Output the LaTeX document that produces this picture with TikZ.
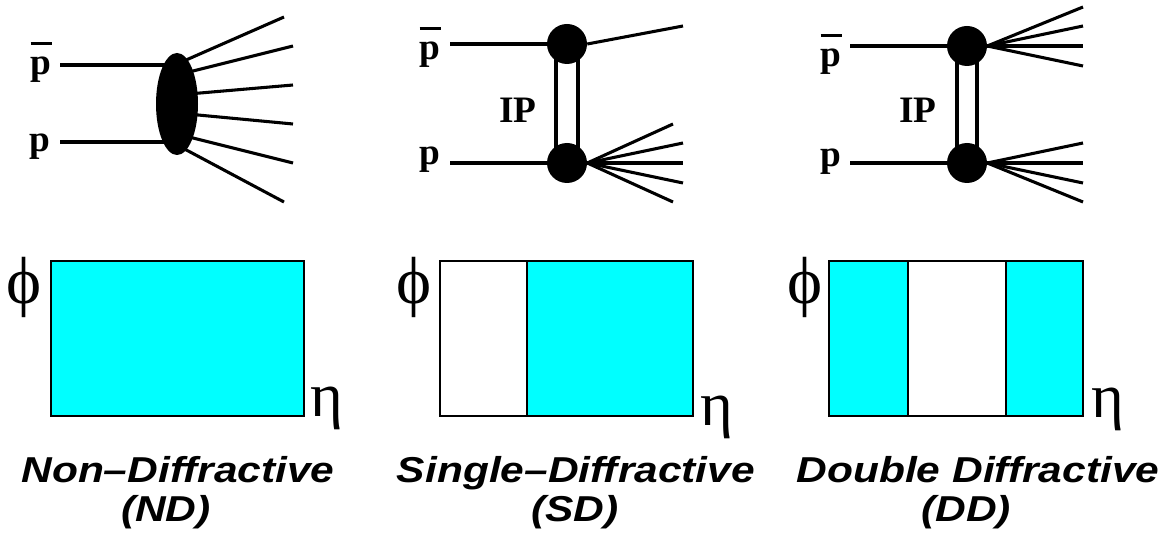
\documentclass[tikz,border=0pt]{standalone}
\usepackage{fontspec}
\setmainfont{Liberation Serif}
\newfontfamily\labfont[FakeStretch=1.18]{Liberation Sans}
\usetikzlibrary{shapes.geometric}
\definecolor{diffcyan}{RGB}{0,255,255}
\newcommand\pbarsym{\makebox[0pt][l]{\raisebox{0.8em}{\rule{0.56em}{0.08em}}}p}
\begin{document}
\begin{tikzpicture}[x=0.75pt,y=-0.75pt,
  line/.style={line width=2.3pt},
  frame/.style={line width=2.2pt, draw=black},
  blob/.style={circle, fill=black, inner sep=0pt, minimum size=30pt},
  part/.style={font=\fontsize{28}{30}\selectfont\bfseries, inner sep=0pt, anchor=base},
  phistyle/.style={font=\fontsize{50}{52}\selectfont, inner sep=0pt},
  etastyle/.style={font=\fontsize{47}{50}\selectfont, inner sep=0pt},
  title/.style={font=\labfont\fontsize{27}{30}\selectfont\bfseries\itshape, inner sep=0pt, anchor=base}
]
\useasboundingbox[fill=white] (0,0) rectangle (1164,545);

% ---------- Non-diffractive ----------
\node[part] (nd-pb) at (41,75) {\pbarsym};
\node[part] (nd-p) at (40,152) {p};
\coordinate (nd-c) at (177,104);
\coordinate (nd-a) at (60,65);
\coordinate (nd-b) at (60,142);
\draw[line] (nd-a) -- (nd-a -| nd-c);
\draw[line] (nd-b) -- (nd-b -| nd-c);
\coordinate (nd-s1) at (177,64);  \coordinate (nd-o1) at (284,17);
\coordinate (nd-s2) at (177,75);  \coordinate (nd-o2) at (293,46);
\coordinate (nd-s3) at (177,95);  \coordinate (nd-o3) at (293,85);
\coordinate (nd-s4) at (177,113); \coordinate (nd-o4) at (293,124);
\coordinate (nd-s5) at (177,134); \coordinate (nd-o5) at (293,163);
\coordinate (nd-s6) at (177,145); \coordinate (nd-o6) at (284,202);
\foreach \i in {1,...,6} {\draw[line] (nd-s\i) -- (nd-o\i);}
\node[ellipse, fill=black, inner sep=0pt, minimum width=31.5pt, minimum height=76.5pt] (nd-blob) at (nd-c) {};

% ---------- Single-diffractive ----------
\node[part] (sd-pb) at (430,60) {\pbarsym};
\node[part] (sd-p) at (430,165) {p};
\node[part] (sd-ip) at (518,123) {IP};
\node[blob] (sd-t) at (567,44) {};
\node[blob] (sd-b) at (567,163) {};
\coordinate (sd-a) at (450,44);
\coordinate (sd-bb) at (450,163);
\draw[line] (sd-a) -- (sd-t);
\draw[line] (sd-bb) -- (sd-b);
\draw[line] ([xshift=-8.25pt]sd-t.center) -- ([xshift=-8.25pt]sd-b.center);
\draw[line] ([xshift=8.25pt]sd-t.center) -- ([xshift=8.25pt]sd-b.center);
\coordinate (sd-o0) at (683,26);
\draw[line] (sd-t.east) -- (sd-o0);
\coordinate (sd-o1) at (673,124);
\coordinate (sd-o2) at (683,143);
\coordinate (sd-o3) at (683,163);
\coordinate (sd-o4) at (683,183);
\coordinate (sd-o5) at (673,202);
\foreach \i in {1,...,5} {\draw[line] (sd-b.east) -- (sd-o\i);}

% ---------- Double-diffractive ----------
\node[part] (dd-pb) at (831,67) {\pbarsym};
\node[part] (dd-p) at (831,167) {p};
\node[part] (dd-ip) at (918,123) {IP};
\node[blob] (dd-t) at (967,46) {};
\node[blob] (dd-b) at (967,163) {};
\coordinate (dd-a) at (850,46);
\coordinate (dd-bb) at (850,163);
\draw[line] (dd-a) -- (dd-t);
\draw[line] (dd-bb) -- (dd-b);
\draw[line] ([xshift=-7.5pt]dd-t.center) -- ([xshift=-7.5pt]dd-b.center);
\draw[line] ([xshift=7.5pt]dd-t.center) -- ([xshift=7.5pt]dd-b.center);
\coordinate (dd-t1) at (1083,7);
\coordinate (dd-t2) at (1083,26);
\coordinate (dd-t3) at (1083,46);
\coordinate (dd-t4) at (1083,66);
\foreach \i in {1,...,4} {\draw[line] (dd-t.east) -- (dd-t\i);}
\coordinate (dd-b1) at (1083,143);
\coordinate (dd-b2) at (1083,163);
\coordinate (dd-b3) at (1083,183);
\coordinate (dd-b4) at (1083,202);
\foreach \i in {1,...,4} {\draw[line] (dd-b.east) -- (dd-b\i);}

% ---------- eta-phi plots ----------
\filldraw[frame, fill=diffcyan] (51,261) rectangle (304,416);
\filldraw[frame, fill=white] (440,261) rectangle (527,416);
\filldraw[frame, fill=diffcyan] (527,261) rectangle (693,416);
\filldraw[frame, fill=diffcyan] (829,261) rectangle (908,416);
\filldraw[frame, fill=white] (908,261) rectangle (1006,416);
\filldraw[frame, fill=diffcyan] (1006,261) rectangle (1083,416);

\node[phistyle] (nd-phi) at (24,287) {ϕ};
\node[phistyle] (sd-phi) at (414,287) {ϕ};
\node[phistyle] (dd-phi) at (805,287) {ϕ};
\node[etastyle] (nd-eta) at (327,408) {η};
\node[etastyle] (sd-eta) at (717,417) {η};
\node[etastyle] (dd-eta) at (1108,409) {η};

% ---------- titles ----------
\node[title] (nd-t1) at (178,482) {Non–Diffractive};
\node[title] (nd-t2) at (166,521) {(ND)};
\node[title] (sd-t1) at (576,482) {Single–Diffractive};
\node[title] (sd-t2) at (575,521) {(SD)};
\node[title] (dd-t1) at (978,482) {Double Diffractive};
\node[title] (dd-t2) at (966,521) {(DD)};
\end{tikzpicture}
\end{document}
